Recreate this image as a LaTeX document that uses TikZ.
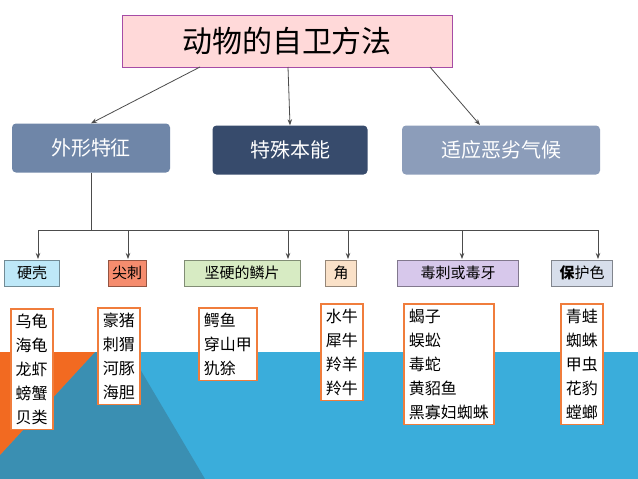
\documentclass[tikz,border=0pt]{standalone}
\usepackage{fontspec}
\setmainfont{Noto Sans CJK SC}
\usetikzlibrary{arrows.meta}
\definecolor{bgblue}{HTML}{3AADDB}
\definecolor{bgdark}{HTML}{3A8FB2}
\definecolor{bgorange}{HTML}{F26A21}
\definecolor{boxorange}{HTML}{F07D3C}
\definecolor{topa}{RGB}{111,134,168}
\definecolor{topb}{RGB}{55,75,108}
\definecolor{topc}{RGB}{140,157,186}
\definecolor{ca}{RGB}{190,232,248}
\definecolor{cb}{RGB}{245,140,110}
\definecolor{cc}{RGB}{215,235,195}
\definecolor{cd}{RGB}{250,225,200}
\definecolor{ce}{RGB}{215,200,235}
\definecolor{cf}{RGB}{215,222,235}
\tikzset{
 cat/.style={draw=#1!60!black,fill=#1,minimum height=26pt,font=\fontsize{15}{17}\selectfont,inner sep=2pt},
 top/.style={fill=#1,minimum height=49pt,text=white,font=\fontsize{20}{22}\selectfont,rounded corners=4pt},
 list/.style={draw=boxorange,line width=1.5pt,fill=white,align=left,font=\fontsize{16}{24}\selectfont,inner sep=5pt,anchor=north west},
 arr/.style={-{Stealth[length=6pt]},draw=black!70,line width=0.8pt}
}
\begin{document}
\begin{tikzpicture}[x=1pt,y=-1pt]
\useasboundingbox (0,0) rectangle (638,479);
\fill[white] (0,0) rectangle (638,479);
\fill[bgblue] (0,352) rectangle (638,479);
\fill[bgdark] (95,352) -- (130,352) -- (205,479) -- (0,479) -- (0,455) -- cycle;
\fill[bgorange] (0,352) -- (95,352) -- (0,455) -- cycle;
\node[draw=violet!70,line width=1pt,fill=pink!60,minimum width=330pt,minimum height=52pt,font=\fontsize{30}{32}\selectfont] (t) at (287,41) {动物的自卫方法};
\node[top=topa,minimum width=158pt] (a) at (91,148) {外形特征};
\node[top=topb,minimum width=155pt] (b) at (290,150) {特殊本能};
\node[top=topc,minimum width=198pt] (c) at (501,150) {适应恶劣气候};
\draw[arr] (200,67) -- (a.north);
\draw[arr] (288,67) -- (b.north);
\draw[arr] (430,67) -- (480,125);
\coordinate (h) at (91,230);
\draw[draw=black!70,line width=0.8pt] (a.south) -- (h);
\draw[draw=black!70,line width=0.8pt] (38,230) -- (598,230);
\node[cat=ca,minimum width=55pt] (k1) at (32,273) {硬壳};
\node[cat=cb,minimum width=38pt] (k2) at (127,273) {尖刺};
\node[cat=cc,minimum width=116pt] (k3) at (242,273) {坚硬的鳞片};
\node[cat=cd,minimum width=31pt] (k4) at (341,273) {角};
\node[cat=ce,minimum width=121pt] (k5) at (458,273) {毒刺或毒牙};
\node[cat=cf,minimum width=61pt] (k6) at (582,273) {\textbf{保}护色};
\foreach \x/\k in {38/k1,128/k2,288/k3,348/k4,462/k5,598/k6}
  \draw[arr] (\x,230) -- (\x,259);
\node[list] (l1) at (10,308) {乌龟\\海龟\\龙虾\\螃蟹\\贝类};
\node[list] (l2) at (97,307) {豪猪\\刺猬\\河豚\\海胆};
\node[list] (l3) at (198,307) {鳄鱼\\穿山甲\\犰狳};
\node[list] (l4) at (320,303) {水牛\\犀牛\\羚羊\\羚牛};
\node[list] (l5) at (403,303) {蝎子\\蜈蚣\\毒蛇\\黄貂鱼\\黑寡妇蜘蛛};
\node[list] (l6) at (560,303) {青蛙\\蜘蛛\\甲虫\\花豹\\螳螂};
\end{tikzpicture}
\end{document}
